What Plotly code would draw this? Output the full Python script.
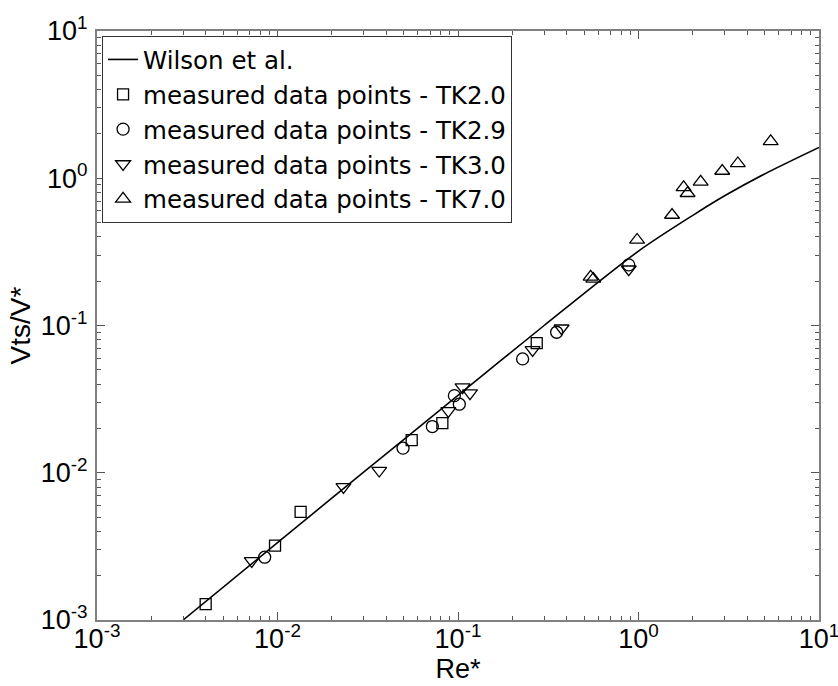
import plotly.graph_objects as go

# Wilson et al. reference curve (Re*, Vts/V*)
wilson_re = [0.003, 0.01, 0.03, 0.1, 0.3, 1.0, 2.0, 3.0, 5.0, 10.0]
wilson_v = [0.001, 0.00335, 0.0101, 0.0335, 0.100, 0.32, 0.56, 0.76, 1.07, 1.62]

# Measured data points
tk20_re = [0.0040, 0.00969, 0.01343, 0.0554, 0.0819, 0.273]
tk20_v = [0.00128, 0.00320, 0.00543, 0.01664, 0.0217, 0.0758]

tk29_re = [0.00849, 0.0496, 0.0721, 0.0955, 0.1017, 0.228, 0.352, 0.883]
tk29_v = [0.00267, 0.01469, 0.0206, 0.0334, 0.0292, 0.0593, 0.090, 0.258]

tk30_re = [0.0072, 0.0232, 0.0366, 0.0884, 0.106, 0.1165, 0.259, 0.375, 0.883]
tk30_v = [0.00252, 0.00802, 0.01035, 0.0263, 0.0381, 0.0347, 0.0683, 0.0958, 0.241]

tk70_re = [0.543, 0.562, 0.982, 1.534, 1.778, 1.87, 2.21, 2.91, 3.55, 5.40]
tk70_v = [0.214, 0.207, 0.381, 0.563, 0.868, 0.791, 0.944, 1.12, 1.26, 1.78]

decades = [-3, -2, -1, 0, 1]
major_vals = [10.0 ** d for d in decades]
major_text = [f"10<sup>{d}</sup>" for d in decades]
minor_vals = [m * 10.0 ** d for d in decades[:-1] for m in range(2, 10)]

FONT = "Arial, Liberation Sans, sans-serif"

fig = go.Figure()
fig.add_trace(go.Scatter(
    x=wilson_re, y=wilson_v, mode="lines", name="Wilson et al.",
    line=dict(color="black", width=1.6, shape="spline", smoothing=0.8),
))

series = [
    (tk20_re, tk20_v, "square-open", 11, "measured data points - TK2.0"),
    (tk29_re, tk29_v, "circle-open", 12, "measured data points - TK2.9"),
    (tk30_re, tk30_v, "triangle-down-open", 13, "measured data points - TK3.0"),
    (tk70_re, tk70_v, "triangle-up-open", 13, "measured data points - TK7.0"),
]
for xs, ys, sym, size, name in series:
    fig.add_trace(go.Scatter(
        x=xs, y=ys, mode="markers", name=name,
        marker=dict(symbol=sym, size=size, color="black",
                    line=dict(width=1.3, color="black")),
    ))

axis_common = dict(
    type="log",
    automargin=False,
    tickmode="array",
    tickvals=major_vals,
    ticktext=major_text,
    ticks="inside",
    ticklen=8,
    tickwidth=1,
    tickcolor="#555555",
    showline=True,
    linecolor="#808080",
    linewidth=2,
    mirror="allticks",
    showgrid=False,
    zeroline=False,
    ticklabeloverflow="allow",
    tickfont=dict(family=FONT, size=27, color="black"),
    minor=dict(tickmode="array", tickvals=minor_vals, ticks="inside",
               ticklen=4, tickwidth=1, tickcolor="#555555", showgrid=False),
)

fig.update_xaxes(
    range=[-3, 1],
    ticklabelstandoff=-6,
    title=dict(text="Re*", font=dict(family=FONT, size=27, color="black"),
               standoff=0),
    **axis_common,
)
fig.update_yaxes(
    range=[-3, 1],
    ticklabelstandoff=2,
    title=dict(text="Vts/V*", font=dict(family=FONT, size=28, color="black"),
               standoff=2),
    **axis_common,
)

fig.update_layout(
    width=838, height=686,
    margin=dict(l=97, r=19, t=31, b=66),
    paper_bgcolor="white",
    plot_bgcolor="white",
    showlegend=True,
    legend=dict(
        x=0.007, y=0.9915, xanchor="left", yanchor="top",
        bgcolor="white", bordercolor="#333333", borderwidth=1,
        font=dict(family="DejaVu Sans", size=24.5, color="black"),
        itemwidth=30, tracegroupgap=0,
    ),
)

fig.write_html("out.html")
